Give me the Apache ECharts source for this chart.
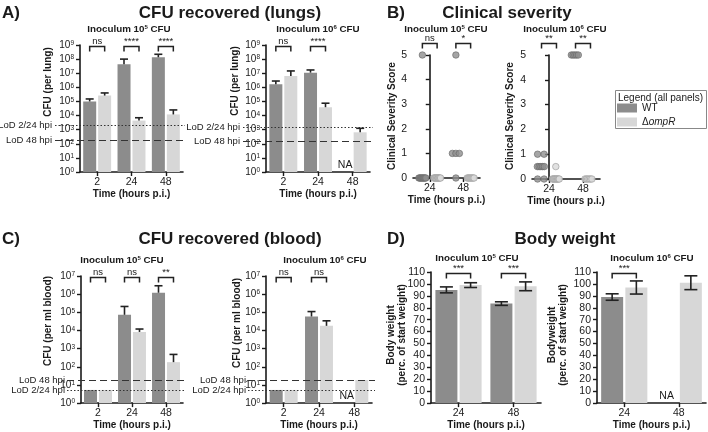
<!DOCTYPE html>
<html><head><meta charset="utf-8">
<script src="https://cdn.jsdelivr.net/npm/echarts@6/dist/echarts.min.js"></script>
<style>html,body{margin:0;padding:0;background:#fff}#c{width:708px;height:432px}</style>
</head><body><div id="c"></div>
<script>
// ---------------- data ----------------
const cfuTimes = ['2', '24', '48'];
const shortTimes = ['24', '48'];
const groupNames = ['WT', 'ΔompR'];
const lodLabelsLung = ['LoD 2/24 hpi', 'LoD 48 hpi'];
const lodLabelsBlood = ['LoD 2/24 hpi', 'LoD 48 hpi'];

// A) lungs, inoculum 10^5
const lung5WT = [1.0e5, 4.4e7, 1.35e8];
const lung5WTUp = [1.5e5, 1.0e8, 2.2e8];
const lung5KO = [2.6e5, 4.4e3, 1.2e4];
const lung5KOUp = [4.0e5, 7.0e3, 2.5e4];
const lung5Sig = ['ns', '****', '****'];
const lung5LoD = [2.1e3, 2.0e2];
// A) lungs, inoculum 10^6
const lung6WT = [1.66e6, 1.1e7, null];
const lung6WTUp = [2.8e6, 1.7e7, null];
const lung6KO = [6.4e6, 3.9e4, 650];
const lung6KOUp = [1.45e7, 7.5e4, 1250];
const lung6Sig = ['ns', '****', null];
const lung6LoD = [1.6e3, 1.5e2];
const lung6NA = [false, false, true];

// B) clinical severity scores (individual mice)
const sev5WT24 = [5, 0, 0, 0, 0, 0, 0, 0, 0, 0];
const sev5KO24 = [0, 0, 0, 0, 0, 0, 0, 0, 0, 0];
const sev5WT48 = [5, 1, 1, 1, 0];
const sev5KO48 = [0, 0, 0, 0, 0, 0, 0, 0];
const sev5Sig = ['ns', '*'];
const sev6WT24 = [1, 1, 0.5, 0.5, 0.5, 0.5, 0.5, 0, 0];
const sev6KO24 = [0.5, 0, 0, 0, 0, 0, 0, 0, 0, 0];
const sev6WT48 = [5, 5, 5, 5, 5];
const sev6KO48 = [0, 0, 0, 0, 0, 0];
const sev6Sig = ['**', '**'];

// C) blood, inoculum 10^5
const blood5WT = [5.3, 7.3e4, 1.2e6];
const blood5WTUp = [null, 2.1e5, 2.9e6];
const blood5KO = [5.3, 8.3e3, 180];
const blood5KOUp = [null, 1.2e4, 480];
const blood5Sig = ['ns', 'ns', '**'];
// C) blood, inoculum 10^6
const blood6WT = [5.3, 5.9e4, null];
const blood6WTUp = [null, 1.1e5, null];
const blood6KO = [5.3, 1.8e4, 18.7];
const blood6KOUp = [null, 3.4e4, null];
const blood6Sig = ['ns', 'ns', null];
const blood6NA = [false, false, true];
const bloodLoD = [5.3, 18.7];

// D) body weight (% of start), mean and SD
const bw5WT = [95, 83.5];
const bw5WTsd = [2.5, 1.5];
const bw5KO = [99, 98];
const bw5KOsd = [2, 3.7];
const bw5Sig = ['***', '***'];
const bw6WT = [89, null];
const bw6WTsd = [2.7, null];
const bw6KO = [97, 101];
const bw6KOsd = [5.5, 5.8];
const bw6Sig = ['***', null];
const bw6NA = [false, true];

// ---------------- style ----------------
const FONT = '"Liberation Sans", Arial, Helvetica, sans-serif';
const INK = '#1a1a1a';
const C_WT = '#8c8c8c', C_KO = '#d7d7d7';
const DOT_WT = {color: '#8e8e8e', borderColor: '#666', borderWidth: 0.8};
const DOT_KO = {color: '#d9d9d9', borderColor: '#999', borderWidth: 0.8};
const TICK_FS = 10;

const grids = [
  {left: 80, top: 45, width: 103, height: 127},   // A1
  {left: 266, top: 45, width: 104, height: 127},  // A2
  {left: 413, top: 55, width: 67, height: 123},   // B1
  {left: 532, top: 55, width: 68, height: 124},   // B2
  {left: 81, top: 276, width: 102, height: 128},  // C1
  {left: 266, top: 276, width: 106, height: 128}, // C2
  {left: 431, top: 272, width: 110, height: 132}, // D1
  {left: 597, top: 272, width: 109, height: 132}  // D2
];

const axisLine = {show: true, lineStyle: {color: INK, width: 1.6}};
const axisTick = {show: true, length: 4, lineStyle: {color: INK, width: 1.4}};
const nameStyle = {fontWeight: 'bold', fontSize: 10, color: INK, fontFamily: FONT, lineHeight: 11};

function catX(gi, data) {
  return {type: 'category', gridIndex: gi, data,
    axisLine, axisTick: Object.assign({alignWithLabel: true}, axisTick),
    axisLabel: {color: INK, fontSize: 10.5, margin: 5, fontFamily: FONT},
    splitLine: {show: false},
    name: 'Time (hours p.i.)', nameLocation: 'middle', nameGap: 16, nameTextStyle: nameStyle};
}
function sevX(gi) {
  return {type: 'value', gridIndex: gi, min: -0.5, max: 1.5,
    axisLine, axisTick: Object.assign({customValues: [0, 1]}, axisTick),
    axisLabel: {customValues: [0, 1], color: INK, fontSize: 10.5, margin: 5, fontFamily: FONT,
      formatter: v => shortTimes[Math.round(v)]},
    splitLine: {show: false},
    name: 'Time (hours p.i.)', nameLocation: 'middle', nameGap: 16, nameTextStyle: nameStyle};
}
function logY(gi, maxExp) {
  return {type: 'log', logBase: 10, gridIndex: gi, min: 1, max: Math.pow(10, maxExp),
    axisLine, axisTick, minorTick: {show: false}, splitLine: {show: false},
    axisLabel: {color: INK, fontSize: TICK_FS, margin: 6, fontFamily: FONT,
      formatter: v => '10{s|' + Math.round(Math.log10(v)) + '}',
      rich: {s: {fontSize: 6.5, verticalAlign: 'top', fontFamily: FONT, color: INK}}}};
}
function linY(gi, max, interval) {
  return {type: 'value', gridIndex: gi, min: 0, max, interval,
    axisLine, axisTick, splitLine: {show: false},
    axisLabel: {color: INK, fontSize: TICK_FS + 0.5, margin: 6, fontFamily: FONT}};
}

function bars(gi, name, data, color, bw, gap) {
  return {type: 'bar', name, xAxisIndex: gi, yAxisIndex: gi, data, barWidth: bw, barGap: gap,
    itemStyle: {color}, silent: true, z: 2};
}
function errBars(gi, mean, lo, hi, dx, capW) {
  const data = [];
  mean.forEach((m, i) => { if (m != null && hi[i] != null) data.push([i, m, lo ? lo[i] : m, hi[i]]); });
  return {type: 'custom', xAxisIndex: gi, yAxisIndex: gi, data, clip: false, silent: true, z: 4,
    renderItem(params, api) {
      const i = api.value(0);
      const pm = api.coord([i, api.value(1)]);
      const pl = api.coord([i, api.value(2)]);
      const ph = api.coord([i, api.value(3)]);
      const x = pm[0] + dx;
      const st = {stroke: '#222', lineWidth: 1.6};
      const ch = [
        {type: 'line', shape: {x1: x, y1: pl[1], x2: x, y2: ph[1]}, style: st},
        {type: 'line', shape: {x1: x - capW / 2, y1: ph[1], x2: x + capW / 2, y2: ph[1]}, style: st}
      ];
      if (lo) ch.push({type: 'line', shape: {x1: x - capW / 2, y1: pl[1], x2: x + capW / 2, y2: pl[1]}, style: st});
      return {type: 'group', children: ch};
    }};
}
function sigBrackets(gi, labels, yVal, dx, yShift) {
  const data = [];
  labels.forEach((t, i) => { if (t) data.push([i, yVal]); });
  return {type: 'custom', xAxisIndex: gi, yAxisIndex: gi, data, clip: false, silent: true, z: 5,
    renderItem(params, api) {
      const i = Math.round(api.value(0));
      const p = api.coord([i, api.value(1)]);
      const y = Math.round(p[1] + (yShift || 0)) + 0.5;
      const x1 = p[0] - dx, x2 = p[0] + dx;
      return {type: 'group', children: [
        {type: 'polyline', shape: {points: [[x1, y + 5], [x1, y], [x2, y], [x2, y + 5]]},
          style: {stroke: '#222', lineWidth: 1.5, fill: 'none'}},
        {type: 'text', style: {text: labels[i], x: p[0], y: y - 0.5, textAlign: 'center',
          textVerticalAlign: 'bottom', font: '9.5px ' + FONT, fill: INK}}
      ]};
    }};
}
function lodLines(gi, values, labels, dashes, extL, labelGap, extR) {
  const data = values.map(v => [0, v]);
  return {type: 'custom', xAxisIndex: gi, yAxisIndex: gi, data, clip: false, silent: true, z: 6,
    renderItem(params, api) {
      const k = params.dataIndex;
      const cs = params.coordSys;
      const p = api.coord([0, api.value(1)]);
      const y = Math.round(p[1]) + 0.5;
      return {type: 'group', children: [
        {type: 'line', shape: {x1: cs.x - extL, y1: y, x2: cs.x + cs.width + extR, y2: y},
          style: {stroke: '#333', lineWidth: 1.1, lineDash: dashes[k]}},
        {type: 'text', style: {text: labels[k], x: cs.x - labelGap, y: y, textAlign: 'right',
          textVerticalAlign: 'middle', font: '9.5px ' + FONT, fill: INK}}
      ]};
    }};
}
function naText(gi, flags, base, dx) {
  const data = [];
  flags.forEach((f, i) => { if (f) data.push([i, base]); });
  return {type: 'custom', xAxisIndex: gi, yAxisIndex: gi, data, clip: false, silent: true, z: 6,
    renderItem(params, api) {
      const p = api.coord([api.value(0), api.value(1)]);
      return {type: 'text', style: {text: 'NA', x: p[0] + dx, y: p[1] - 1.5, textAlign: 'center',
        textVerticalAlign: 'bottom', font: '10.5px ' + FONT, fill: INK}};
    }};
}
function swarm(values, cat, side, unitPx) {
  const counts = new Map();
  values.forEach(v => counts.set(v, (counts.get(v) || 0) + 1));
  const out = [];
  counts.forEach((n, v) => {
    const s = n > 1 ? Math.min(6.5, 7 / (n - 1)) : 0;
    for (let i = 0; i < n; i++) out.push([cat + side + (i - (n - 1) / 2) * s / unitPx, v]);
  });
  return out;
}
function dots(gi, name, data, style) {
  return {type: 'scatter', name, xAxisIndex: gi, yAxisIndex: gi, data, symbol: 'circle', symbolSize: 6.5,
    itemStyle: style, clip: false, silent: true, z: 3};
}

// ---------------- series ----------------
const DXs = 7.5, DXd = 12.1;
const dash1 = [1.5, 2], dash2 = [7, 4];
const series = [];
// A1
series.push(bars(0, groupNames[0], lung5WT, C_WT, 13, '15%'), bars(0, groupNames[1], lung5KO, C_KO, 13, '15%'));
series.push(errBars(0, lung5WT, null, lung5WTUp, -DXs, 8), errBars(0, lung5KO, null, lung5KOUp, DXs, 8));
series.push(sigBrackets(0, lung5Sig, 1e9, DXs, 1));
series.push(lodLines(0, lung5LoD, lodLabelsLung, [dash1, dash2], 25, 28, 2));
// A2
series.push(bars(1, groupNames[0], lung6WT, C_WT, 13, '15%'), bars(1, groupNames[1], lung6KO, C_KO, 13, '15%'));
series.push(errBars(1, lung6WT, null, lung6WTUp, -DXs, 8), errBars(1, lung6KO, null, lung6KOUp, DXs, 8));
series.push(sigBrackets(1, lung6Sig, 1e9, DXs, 1));
series.push(lodLines(1, lung6LoD, lodLabelsLung, [dash1, dash2], 23, 26, 3));
series.push(naText(1, lung6NA, 1, -DXs));
// B1
const u1 = grids[2].width / 2, u2 = grids[3].width / 2;
series.push(dots(2, groupNames[0], swarm(sev5WT24, 0, -0.22, u1).concat(swarm(sev5WT48, 1, -0.22, u1)), DOT_WT));
series.push(dots(2, groupNames[1], swarm(sev5KO24, 0, 0.22, u1).concat(swarm(sev5KO48, 1, 0.22, u1)), DOT_KO));
series.push(sigBrackets(2, sev5Sig, 5.5, 0.22 * u1, 0));
// B2
series.push(dots(3, groupNames[0], swarm(sev6WT24, 0, -0.24, u2).concat(swarm(sev6WT48, 1, -0.24, u2)), DOT_WT));
series.push(dots(3, groupNames[1], swarm(sev6KO24, 0, 0.2, u2).concat(swarm(sev6KO48, 1, 0.16, u2)), DOT_KO));
series.push(sigBrackets(3, sev6Sig, 5.5, 0.22 * u2, 0));
// C1
series.push(bars(4, groupNames[0], blood5WT, C_WT, 13, '15%'), bars(4, groupNames[1], blood5KO, C_KO, 13, '15%'));
series.push(errBars(4, blood5WT, null, blood5WTUp, -DXs, 8), errBars(4, blood5KO, null, blood5KOUp, DXs, 8));
series.push(sigBrackets(4, blood5Sig, 1e7, DXs, 1));
series.push(lodLines(4, bloodLoD, lodLabelsBlood, [dash1, dash2], 14, 16, 1));
// C2
series.push(bars(5, groupNames[0], blood6WT, C_WT, 13, '15%'), bars(5, groupNames[1], blood6KO, C_KO, 13, '15%'));
series.push(errBars(5, blood6WT, null, blood6WTUp, -DXs, 8), errBars(5, blood6KO, null, blood6KOUp, DXs, 8));
series.push(sigBrackets(5, blood6Sig, 1e7, DXs, 1));
series.push(lodLines(5, bloodLoD, lodLabelsBlood, [dash1, dash2], 18, 20, 3));
series.push(naText(5, blood6NA, 1, -DXs));
// D1
const lo = (m, s) => m.map((v, i) => v == null ? null : v - s[i]);
const hi = (m, s) => m.map((v, i) => v == null ? null : v + s[i]);
series.push(bars(6, groupNames[0], bw5WT, C_WT, 22, '10%'), bars(6, groupNames[1], bw5KO, C_KO, 22, '10%'));
series.push(errBars(6, bw5WT, lo(bw5WT, bw5WTsd), hi(bw5WT, bw5WTsd), -DXd, 13));
series.push(errBars(6, bw5KO, lo(bw5KO, bw5KOsd), hi(bw5KO, bw5KOsd), DXd, 13));
series.push(sigBrackets(6, bw5Sig, 110, DXd, 1));
// D2
series.push(bars(7, groupNames[0], bw6WT, C_WT, 22, '10%'), bars(7, groupNames[1], bw6KO, C_KO, 22, '10%'));
series.push(errBars(7, bw6WT, lo(bw6WT, bw6WTsd), hi(bw6WT, bw6WTsd), -DXd, 13));
series.push(errBars(7, bw6KO, lo(bw6KO, bw6KOsd), hi(bw6KO, bw6KOsd), DXd, 13));
series.push(sigBrackets(7, bw6Sig, 110, DXd, 1));
series.push(naText(7, bw6NA, 0, -DXd));

// ---------------- texts ----------------
function txt(x, y, text, font, align, rich) {
  return {type: 'text', x, y, silent: true,
    style: {text, font, fill: INK, textAlign: align || 'center', textVerticalAlign: 'middle', rich}};
}
function vtxt(x, y, text) {
  return {type: 'text', x, y, rotation: Math.PI / 2, silent: true,
    style: {text, font: 'bold 10px ' + FONT, lineHeight: 11, fill: INK, textAlign: 'center', textVerticalAlign: 'middle'}};
}
const supRich = {s: {fontSize: 6, fontWeight: 'bold', verticalAlign: 'top', fontFamily: FONT, fill: INK, color: INK}};
const H = 'bold 17px ' + FONT, I = 'bold 9.8px ' + FONT;
const graphic = [
  txt(2, 13, 'A)', H, 'left'), txt(230, 13, 'CFU recovered (lungs)', H),
  txt(387, 13, 'B)', H, 'left'), txt(507, 13, 'Clinical severity', H),
  txt(2, 239, 'C)', H, 'left'), txt(230, 239, 'CFU recovered (blood)', H),
  txt(387, 239, 'D)', H, 'left'), txt(565, 239, 'Body weight', H),
  txt(129, 29, 'Inoculum 10{s|5} CFU', I, 'center', supRich),
  txt(318, 29, 'Inoculum 10{s|6} CFU', I, 'center', supRich),
  txt(446, 29, 'Inoculum 10{s|5} CFU', I, 'center', supRich),
  txt(565, 29, 'Inoculum 10{s|6} CFU', I, 'center', supRich),
  txt(122, 260, 'Inoculum 10{s|5} CFU', I, 'center', supRich),
  txt(325, 260, 'Inoculum 10{s|6} CFU', I, 'center', supRich),
  txt(477, 258, 'Inoculum 10{s|5} CFU', I, 'center', supRich),
  txt(652, 258, 'Inoculum 10{s|6} CFU', I, 'center', supRich),
  vtxt(48, 82, 'CFU (per lung)'),
  vtxt(235, 81, 'CFU (per lung)'),
  vtxt(392, 116, 'Clinical Severity Score'),
  vtxt(510, 116, 'Clinical Severity Score'),
  vtxt(48, 321, 'CFU (per ml blood)'),
  vtxt(237, 323, 'CFU (per ml blood)'),
  vtxt(397, 335, 'Body weight\n(perc. of start weight)'),
  vtxt(558, 335, 'Bodyweight\n(perc. of start weight)'),
  {type: 'rect', silent: true, shape: {x: 615.5, y: 90.5, width: 91, height: 38},
    style: {fill: 'none', stroke: '#888', lineWidth: 1}},
  txt(618, 98, 'Legend (all panels)', '10px ' + FONT, 'left')
];

const option = {
  animation: false,
  backgroundColor: '#fff',
  textStyle: {fontFamily: FONT},
  grid: grids,
  xAxis: [catX(0, cfuTimes), catX(1, cfuTimes), sevX(2), sevX(3), catX(4, cfuTimes), catX(5, cfuTimes),
    catX(6, shortTimes), catX(7, shortTimes)],
  yAxis: [logY(0, 9), logY(1, 9), linY(2, 5, 1), linY(3, 5, 1), logY(4, 7), logY(5, 7),
    linY(6, 110, 10), linY(7, 110, 10)],
  legend: {orient: 'vertical', left: 617, top: 103, data: groupNames, icon: 'rect', itemWidth: 20, itemHeight: 9,
    itemGap: 4, padding: 0, selectedMode: false,
    textStyle: {fontSize: 10, color: INK, fontFamily: FONT, rich: {i: {fontStyle: 'italic', fontSize: 10, color: INK, fontFamily: FONT}}},
    formatter: n => n === 'ΔompR' ? 'Δ{i|ompR}' : n},
  series,
  graphic
};
const chart = echarts.init(document.getElementById('c'), null, {renderer: 'canvas'});
chart.setOption(option);
</script></body></html>
